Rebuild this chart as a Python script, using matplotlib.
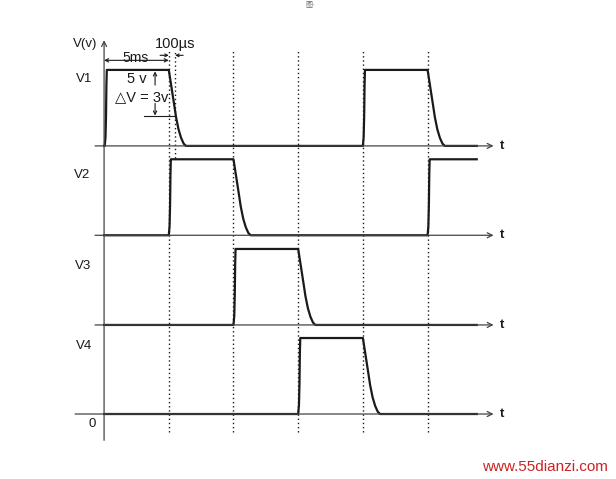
import matplotlib
matplotlib.use("Agg")
import matplotlib.pyplot as plt
import numpy as np

plt.rcParams['font.family'] = ['Liberation Sans', 'DejaVu Sans', 'Noto Sans CJK SC']

# ---- data (time in ms, voltage in V) ----
channels = ["V1", "V2", "V3", "V4"]
offsets = [17.64, 11.76, 5.86, 0.0]          # vertical stacking of the traces
pulses = {
    "V1": [(0.05, 5.0), (20.0, 25.0)],
    "V2": [(5.0, 10.0), (25.0, None)],
    "V3": [(10.0, 15.0)],
    "V4": [(15.0, 20.0)],
}
amplitude = 5.0
t_end = 28.8
rise_dt = [0.0, 0.06, 0.10, 0.13, 0.16]
rise_v = [0.0, 0.6, 2.0, 4.0, 5.0]
fall_dt = [0.0, 0.10, 0.20, 0.30, 0.40, 0.56, 0.75, 0.95, 1.15, 1.33]
fall_v = [5.0, 4.45, 3.9, 3.35, 2.8, 1.9, 1.1, 0.53, 0.15, 0.0]
grid_times = [5, 10, 15, 20, 25]
t_100us = 5.49


def trace(plist):
    ts, vs = [0.0], [0.0]
    for start, stop in plist:
        ts += [start + d for d in rise_dt]
        vs += list(rise_v)
        if stop is None:
            ts.append(t_end)
            vs.append(amplitude)
        else:
            ts += [stop + d for d in fall_dt]
            vs += list(fall_v)
    if ts[-1] < t_end:
        ts.append(t_end)
        vs.append(vs[-1])
    return np.array(ts), np.array(vs)


fig = plt.figure(figsize=(6.16, 4.79), dpi=100)
ax = fig.add_axes([0, 0, 1, 1])
ax.set_xlim(-8.043, 39.56)
ax.set_ylim(-4.276, 27.24)
ax.axis('off')

ink = '#1a1a1a'
thin = '#444444'

# dotted time markers
for gt in grid_times:
    ax.plot([gt, gt], [-1.2, 23.93], color=ink, lw=1.0, ls=(0, (1, 2)))
ax.plot([t_100us, t_100us], [16.82, 23.93], color=ink, lw=1.0, ls=(0, (1, 2)))

# vertical axis
ax.annotate('', xy=(0, 24.6), xytext=(0, -1.73),
            arrowprops=dict(arrowstyle='->', lw=0.9, color=thin,
                            shrinkA=0, shrinkB=0, mutation_scale=9))

# horizontal time axes + traces
for name, off in zip(channels, offsets):
    x0 = -2.24 if off == 0 else -0.7
    ax.annotate('', xy=(30.1, off), xytext=(x0, off),
                arrowprops=dict(arrowstyle='->', lw=0.9, color=thin,
                                shrinkA=0, shrinkB=0, mutation_scale=9))
    ax.text(30.55, off, 't', fontsize=9.5, fontweight='bold', color=ink,
            ha='left', va='center')
    ts, vs = trace(pulses[name])
    ax.plot(ts, vs + off, color=ink, lw=1.6, solid_joinstyle='round')

# channel labels
label_pos = {"V1": (-0.93, 22.07), "V2": (-1.08, 15.7),
             "V3": (-1.0, 9.72), "V4": (-0.93, 4.45)}
for name in channels:
    x, y = label_pos[name]
    ax.text(x, y, name, fontsize=9.5, color=ink, ha='right', va='center')
ax.text(-1.47, 24.32, 'V(v)', fontsize=9.5, color=ink, ha='center', va='center')
ax.text(-0.62, -0.68, '0', fontsize=9.5, color=ink, ha='right', va='center')

# 5 ms dimension
v1 = offsets[0]
ax.annotate('', xy=(5.0, 23.27), xytext=(0.0, 23.27),
            arrowprops=dict(arrowstyle='<->', lw=0.8, color=ink,
                            shrinkA=0, shrinkB=0, mutation_scale=6))
ax.text(2.4, 23.45, '5ms', fontsize=10, color=ink, ha='center', va='center')

# 100 us dimension
ax.annotate('', xy=(5.0, 23.6), xytext=(4.33, 23.6),
            arrowprops=dict(arrowstyle='->', lw=0.8, color=ink,
                            shrinkA=0, shrinkB=0, mutation_scale=5))
ax.annotate('', xy=(t_100us, 23.6), xytext=(6.11, 23.6),
            arrowprops=dict(arrowstyle='->', lw=0.8, color=ink,
                            shrinkA=0, shrinkB=0, mutation_scale=5))
ax.text(t_100us, 24.32, '100µs', fontsize=10.5, color=ink, ha='center', va='center')

# delta V annotation
ax.text(2.55, v1 + 4.43, '5 v', fontsize=10.5, color=ink, ha='center', va='center')
ax.text(2.94, v1 + 3.19, '△V = 3v', fontsize=10.5, color=ink, ha='center', va='center')
ax.annotate('', xy=(3.94, v1 + 4.9), xytext=(3.94, v1 + 4.0),
            arrowprops=dict(arrowstyle='->', lw=0.8, color=ink,
                            shrinkA=0, shrinkB=0, mutation_scale=6))
ax.annotate('', xy=(3.94, v1 + 2.0), xytext=(3.94, v1 + 2.8),
            arrowprops=dict(arrowstyle='->', lw=0.8, color=ink,
                            shrinkA=0, shrinkB=0, mutation_scale=6))
ax.plot([3.09, t_100us], [v1 + 2.0, v1 + 2.0], color=ink, lw=0.8)

# top small caption fragment and watermark
ax.text(15.55, 27.18, '图-', fontsize=5, color='#666666',
        family=['Noto Sans CJK SC', 'DejaVu Sans'], ha='left', va='top')
ax.text(34.07, -3.47, 'www.55dianzi.com', fontsize=11, color='#cc2222',
        ha='center', va='center')

fig.savefig('out.png', dpi=100)
